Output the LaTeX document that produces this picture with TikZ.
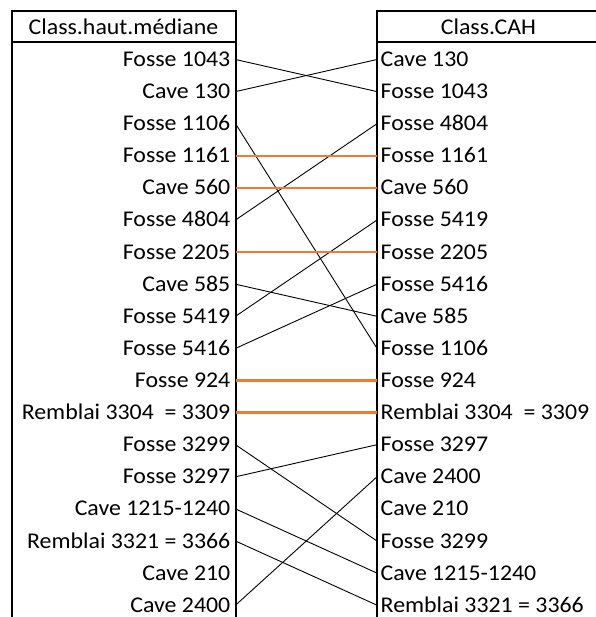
\documentclass[tikz,border=0pt]{standalone}
\usepackage{fontspec}
\setmainfont{Carlito}[FakeStretch=1.06]
\definecolor{linkorange}{HTML}{ED7D31}
\tikzset{
  border/.style={line width=2pt, black},
  link/.style={line width=0.9pt, black},
  samelink/.style={line width=2.4pt, linkorange},
  lefttext/.style={anchor=base east, inner sep=0pt, font=\fontsize{22.5}{25}\selectfont},
  righttext/.style={anchor=base west, inner sep=0pt, font=\fontsize{22.5}{25}\selectfont},
  headtext/.style={anchor=base, inner sep=0pt, font=\fontsize{22.5}{25}\selectfont}
}
\begin{document}
\begin{tikzpicture}[x=1pt, y=-1pt]
\useasboundingbox (0,0) rectangle (595,617);
% boxes
\draw[border] (11.5,617) -- (11.5,11) -- (235.5,11) -- (235.5,617);
\draw[border] (11.5,42.5) -- (235.5,42.5);
\draw[border] (377,617) -- (377,11) -- (600,11);
\draw[border] (377,42.5) -- (600,42.5);
\node[headtext] (hl) at (123.5,35) {Class.haut.médiane};
\node[headtext] (hr) at (488.5,35) {Class.CAH};
% left column
\foreach \i/\t in {1/Fosse 1043, 2/Cave 130, 3/Fosse 1106, 4/Fosse 1161, 5/Cave 560, 6/Fosse 4804, 7/Fosse 2205, 8/Cave 585, 9/Fosse 5419, 10/Fosse 5416, 11/Fosse 924, 12/Remblai 3304~~= 3309, 13/Fosse 3299, 14/Fosse 3297, 15/Cave 1215-1240, 16/Remblai 3321 = 3366, 17/Cave 210, 18/Cave 2400}{
  \pgfmathsetmacro{\ry}{59.5+32.1*(\i-1)}
  \node[lefttext] (l\i) at (230.5,\ry+7) {\t};
  \coordinate (a\i) at (235.5,\ry);
}
% right column
\foreach \i/\t in {1/Cave 130, 2/Fosse 1043, 3/Fosse 4804, 4/Fosse 1161, 5/Cave 560, 6/Fosse 5419, 7/Fosse 2205, 8/Fosse 5416, 9/Cave 585, 10/Fosse 1106, 11/Fosse 924, 12/Remblai 3304~~= 3309, 13/Fosse 3297, 14/Cave 2400, 15/Cave 210, 16/Fosse 3299, 17/Cave 1215-1240, 18/Remblai 3321 = 3366}{
  \pgfmathsetmacro{\ry}{59.5+32.1*(\i-1)}
  \node[righttext] (r\i) at (380.5,\ry+7) {\t};
  \coordinate (b\i) at (377,\ry);
}
% links
\foreach \p/\q in {1/2, 2/1, 3/10, 6/3, 8/9, 9/6, 10/8, 13/16, 14/13, 15/17, 16/18, 18/14}{
  \draw[link] (a\p) -- (b\q);
}
\foreach \p in {4,5,7,11,12}{
  \draw[samelink] (a\p) -- (b\p);
}
\end{tikzpicture}
\end{document}
